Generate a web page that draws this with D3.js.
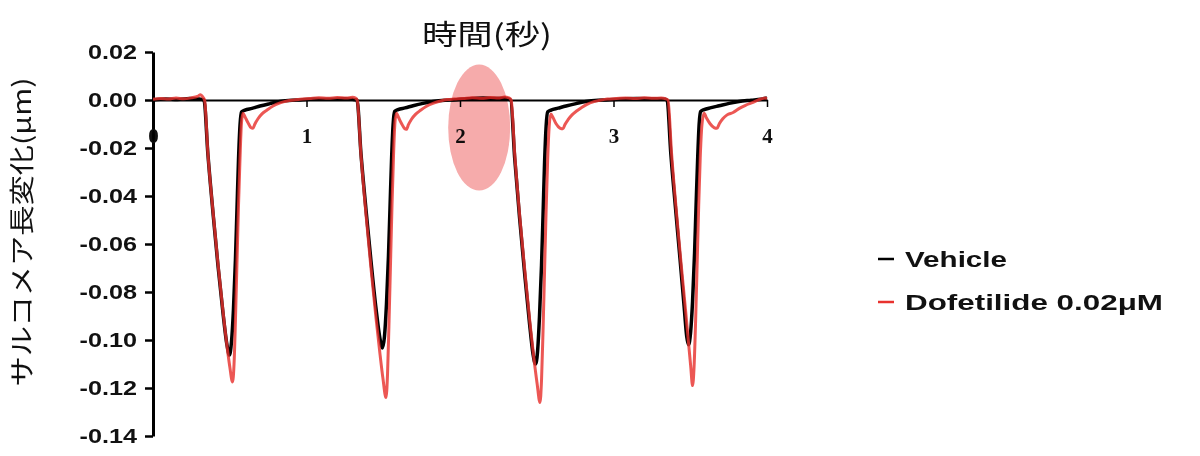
<!DOCTYPE html>
<html>
<head>
<meta charset="utf-8">
<script src="https://cdn.jsdelivr.net/npm/d3@7"></script>
<style>
  body { margin: 0; background: #fff; }
</style>
</head>
<body>
<div id="chart"></div>
<script>
// tick values
var timeTicks = [0, 1, 2, 3, 4];
var lengthTicks = [0.02, 0, -0.02, -0.04, -0.06, -0.08, -0.10, -0.12, -0.14];
var seriesNames = ["Vehicle", "Dofetilide 0.02\u03bcM"];
var seriesColors = ["#000000", "#e8322e"];

// [time (s), sarcomere length change (um)]
var vehicle = [
  [0,0],[0.08,0.0004],[0.16,0.0002],[0.24,0.0006],[0.30,0.0004],
  [0.332,0],[0.358,-0.0229],[0.391,-0.0471],[0.423,-0.0688],[0.456,-0.0888],[0.482,-0.1021],[0.498,-0.1063],
  [0.511,-0.1010],[0.524,-0.0875],[0.537,-0.0667],[0.547,-0.0458],[0.557,-0.025],[0.567,-0.0104],[0.577,-0.005],
  [0.599,-0.0042],[0.645,-0.0035],[0.697,-0.0025],[0.762,-0.0015],[0.827,-0.0006],[0.906,-0.0001],[0.958,0],
  [1.05,0.0004],[1.15,0.0003],[1.25,0.0005],[1.30,0.0003],
  [1.329,0],[1.355,-0.0225],[1.388,-0.046],[1.420,-0.067],[1.453,-0.087],[1.479,-0.0995],[1.495,-0.1033],
  [1.508,-0.0985],[1.521,-0.085],[1.534,-0.065],[1.544,-0.045],[1.554,-0.025],[1.564,-0.0105],[1.574,-0.0048],
  [1.596,-0.004],[1.642,-0.0033],[1.694,-0.0024],[1.759,-0.0014],[1.824,-0.0006],[1.903,-0.0001],[1.955,0],
  [2.05,0.0005],[2.15,0.0008],[2.22,0.0006],[2.29,0.0007],
  [2.330,0],[2.356,-0.024],[2.388,-0.049],[2.420,-0.0715],[2.452,-0.0925],[2.476,-0.106],[2.492,-0.110],
  [2.505,-0.105],[2.518,-0.090],[2.531,-0.069],[2.541,-0.048],[2.551,-0.026],[2.561,-0.011],[2.571,-0.005],
  [2.593,-0.0042],[2.639,-0.0034],[2.691,-0.0025],[2.756,-0.0015],[2.821,-0.0006],[2.900,-0.0001],[2.952,0],
  [3.05,0.0004],[3.15,0.0006],[3.25,0.0005],[3.32,0.0004],
  [3.349,0],[3.373,-0.022],[3.404,-0.045],[3.433,-0.066],[3.460,-0.086],[3.477,-0.0985],[3.489,-0.102],
  [3.502,-0.097],[3.515,-0.084],[3.528,-0.064],[3.538,-0.044],[3.548,-0.025],[3.558,-0.010],[3.568,-0.0048],
  [3.590,-0.004],[3.636,-0.0032],[3.688,-0.0024],[3.753,-0.0014],[3.818,-0.0006],[3.897,-0.0001],[3.96,0.0003],[4.0,0.0008]
];

var dofetilide = [
  [0,0.0003],[0.05,0.0006],[0.10,0.0004],[0.15,0.0008],[0.20,0.0005],[0.25,0.0009],[0.29,0.0015],[0.31,0.0022],[0.325,0.0012],
  [0.336,0],[0.358,-0.0225],[0.391,-0.0465],[0.423,-0.068],[0.456,-0.088],[0.482,-0.1025],[0.500,-0.111],[0.518,-0.1175],
  [0.528,-0.110],[0.537,-0.092],[0.547,-0.068],[0.557,-0.044],[0.567,-0.024],[0.576,-0.010],[0.586,-0.0055],
  [0.599,-0.007],[0.619,-0.0095],[0.638,-0.0115],[0.651,-0.0118],[0.664,-0.010],[0.684,-0.0078],[0.710,-0.0058],
  [0.743,-0.0042],[0.782,-0.0025],[0.828,-0.0012],[0.873,-0.0004],[0.920,0],[0.958,0.0003],
  [1.02,0.0006],[1.08,0.0009],[1.14,0.0007],[1.20,0.001],[1.26,0.0008],[1.30,0.0011],[1.32,0.0008],
  [1.330,0],[1.355,-0.023],[1.388,-0.048],[1.420,-0.070],[1.453,-0.091],[1.479,-0.106],[1.498,-0.116],[1.518,-0.124],
  [1.528,-0.114],[1.537,-0.094],[1.547,-0.069],[1.557,-0.044],[1.567,-0.023],[1.576,-0.0095],[1.586,-0.0055],
  [1.599,-0.0072],[1.619,-0.0098],[1.638,-0.0118],[1.651,-0.0122],[1.664,-0.0103],[1.684,-0.008],[1.710,-0.006],
  [1.743,-0.0043],[1.782,-0.0026],[1.828,-0.0013],[1.873,-0.0004],[1.92,0.0002],[1.96,0.0004],
  [2.02,0.0006],[2.08,0.0009],[2.14,0.0007],[2.20,0.001],[2.25,0.0008],[2.29,0.0012],[2.32,0.0009],
  [2.333,0],[2.357,-0.023],[2.390,-0.049],[2.423,-0.0715],[2.456,-0.093],[2.482,-0.108],[2.502,-0.118],[2.521,-0.126],
  [2.531,-0.117],[2.541,-0.096],[2.551,-0.071],[2.561,-0.046],[2.571,-0.025],[2.581,-0.011],[2.592,-0.0058],
  [2.605,-0.0072],[2.625,-0.0098],[2.651,-0.0117],[2.671,-0.012],[2.684,-0.0102],[2.704,-0.0082],[2.730,-0.0062],
  [2.762,-0.0045],[2.795,-0.003],[2.827,-0.0018],[2.873,-0.0007],[2.92,0],[2.96,0.0004],
  [3.02,0.0006],[3.08,0.0008],[3.14,0.0006],[3.20,0.0009],[3.26,0.0007],[3.31,0.0008],[3.34,0.0005],
  [3.355,0],[3.378,-0.022],[3.409,-0.046],[3.440,-0.068],[3.470,-0.088],[3.490,-0.102],[3.503,-0.111],[3.515,-0.119],
  [3.525,-0.111],[3.535,-0.092],[3.545,-0.068],[3.555,-0.044],[3.565,-0.024],[3.576,-0.0105],[3.590,-0.0055],
  [3.606,-0.0075],[3.628,-0.0098],[3.655,-0.0115],[3.674,-0.0118],[3.690,-0.0098],[3.712,-0.0078],[3.740,-0.0062],
  [3.779,-0.0052],[3.820,-0.0035],[3.860,-0.0022],[3.909,-0.0010],[3.950,0.0002],[3.987,0.0008],[4.0,0.0006]
];

// highlighted spot (time, value)
var highlightCenter = [2.125, -0.0115];

var width = 1200, height = 456;

var svg = d3.select("#chart")
  .append("svg")
    .attr("width", width)
    .attr("height", height)
    .style("font-family", "'Liberation Sans', Arial, sans-serif");

var x = d3.scaleLinear().domain([0, 4]).range([153, 767]);
var y = d3.scaleLinear().domain([-0.14, 0.02]).range([436, 52]);

// y axis
var yAxis = svg.append("g")
  .attr("transform", "translate(" + x(0) + ",0)")
  .call(d3.axisLeft(y).tickValues(lengthTicks).tickSize(8).tickSizeOuter(0)
    .tickFormat(function(d) { return d.toFixed(2); }));
yAxis.select(".domain").attr("stroke-width", 3);
yAxis.selectAll(".tick line").attr("stroke-width", 2.5);
yAxis.selectAll(".tick text")
  .attr("x", 0)
  .attr("transform", "translate(-16,0) scale(1.2,1)")
  .style("font-size", "21px")
  .style("font-weight", "bold")
  .attr("fill", "#111");

// x axis sits on the zero line
var xAxis = svg.append("g")
  .attr("transform", "translate(0," + y(0) + ")")
  .call(d3.axisBottom(x).tickValues(timeTicks).tickSize(7).tickSizeOuter(0).tickPadding(21)
    .tickFormat(d3.format("d")));
xAxis.select(".domain").attr("stroke-width", 2);
xAxis.selectAll(".tick line").attr("stroke-width", 1.5);
xAxis.selectAll(".tick text")
  .style("font-family", "'Liberation Serif', 'Times New Roman', serif")
  .style("font-size", "21px")
  .style("font-weight", "bold")
  .attr("fill", "#111");

var line = d3.line()
  .x(function(d) { return x(d[0]); })
  .y(function(d) { return y(d[1]); })
  .curve(d3.curveMonotoneX);

svg.append("path")
  .datum(vehicle)
  .attr("fill", "none")
  .attr("stroke", seriesColors[0])
  .attr("stroke-width", 3.5)
  .attr("stroke-linejoin", "round")
  .attr("d", line);

svg.append("path")
  .datum(dofetilide)
  .attr("fill", "none")
  .attr("stroke", seriesColors[1])
  .attr("stroke-width", 3)
  .attr("stroke-opacity", 0.82)
  .attr("stroke-linejoin", "round")
  .attr("d", line);

// pink highlight oval
svg.append("ellipse")
  .attr("cx", x(highlightCenter[0]))
  .attr("cy", y(highlightCenter[1]))
  .attr("rx", 31)
  .attr("ry", 63)
  .attr("fill", "#f6abab")
  .style("mix-blend-mode", "multiply");

// axis titles
svg.append("text")
  .attr("x", 487)
  .attr("y", 45)
  .attr("text-anchor", "middle")
  .attr("textLength", 130)
  .attr("lengthAdjust", "spacingAndGlyphs")
  .style("font-family", "'Noto Sans CJK JP', sans-serif")
  .style("font-size", "28px")
  .attr("fill", "#111")
  .text("時間(秒)");

svg.append("text")
  .attr("transform", "translate(31,232) rotate(-90)")
  .attr("text-anchor", "middle")
  .attr("textLength", 309)
  .attr("lengthAdjust", "spacingAndGlyphs")
  .style("font-family", "'Noto Sans CJK JP', sans-serif")
  .style("font-size", "25px")
  .attr("fill", "#111")
  .text("サルコメア長変化(μm)");

// legend
var legendWidths = [102, 258];
var legend = svg.append("g").attr("transform", "translate(878,267)");
seriesNames.forEach(function(name, i) {
  var row = legend.append("g").attr("transform", "translate(0," + (i * 43) + ")");
  row.append("line")
    .attr("x1", 0).attr("x2", 16)
    .attr("y1", -8).attr("y2", -8)
    .attr("stroke", seriesColors[i])
    .attr("stroke-width", 2.5);
  row.append("text")
    .attr("x", 27)
    .attr("y", 0)
    .attr("textLength", legendWidths[i])
    .attr("lengthAdjust", "spacingAndGlyphs")
    .style("font-size", "22px")
    .style("font-weight", "bold")
    .attr("fill", "#111")
    .text(name);
});
</script>
</body>
</html>
